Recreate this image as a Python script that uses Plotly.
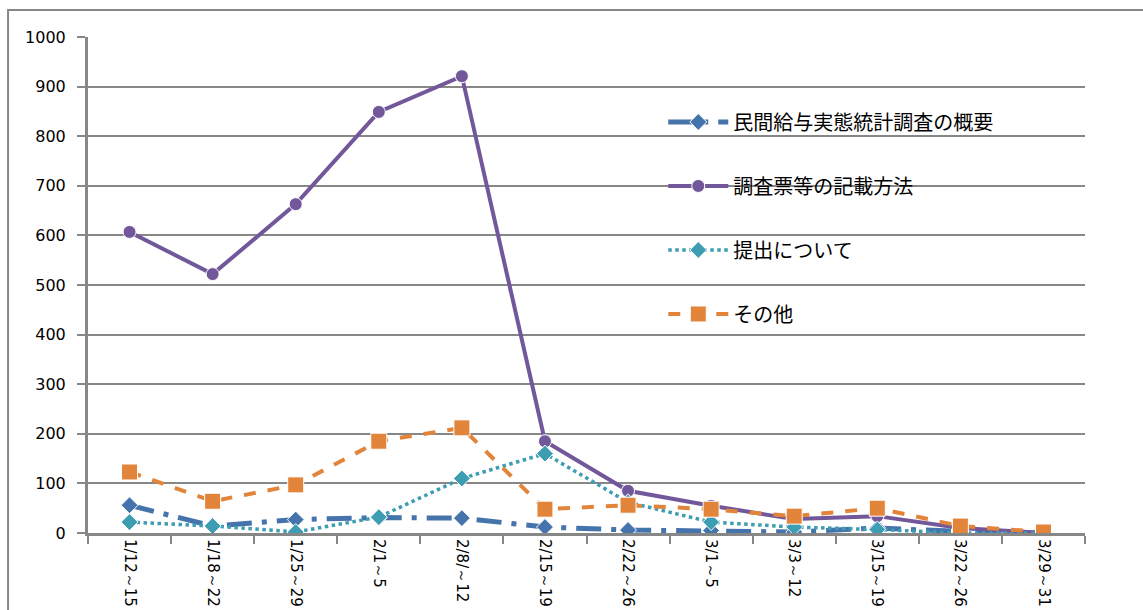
import plotly.graph_objects as go

categories = ["1/12～15", "1/18～22", "1/25～29", "2/1～5", "2/8/～12", "2/15～19",
              "2/22～26", "3/1～5", "3/3～12", "3/15～19", "3/22～26", "3/29～31"]

gaiyou = [56, 14, 27, 31, 30, 12, 6, 5, 2, 10, 3, 0]
kisai = [607, 522, 663, 849, 921, 185, 85, 55, 28, 34, 10, 0]
teishutsu = [22, 14, 2, 32, 110, 160, 62, 22, 12, 7, 0, 0]
sonota = [123, 64, 97, 185, 212, 48, 56, 48, 34, 50, 14, 2]

names = ["民間給与実態統計調査の概要", "調査票等の記載方法", "提出について", "その他"]

GRID = "#878787"
fig = go.Figure()

fig.add_trace(go.Scatter(
    x=categories, y=gaiyou, name=names[0], mode="lines+markers",
    line=dict(color="#4573AB", width=5, dash="longdashdot"),
    marker=dict(symbol="diamond", size=13, color="#4573AB", line=dict(color="white", width=1)),
    legendgroup="a"))
fig.add_trace(go.Scatter(
    x=categories, y=kisai, name=names[1], mode="lines+markers",
    line=dict(color="#72589A", width=4),
    marker=dict(symbol="circle", size=13, color="#72589A", line=dict(color="white", width=1)),
    legendgroup="b"))
fig.add_trace(go.Scatter(
    x=categories, y=teishutsu, name=names[2], mode="lines+markers",
    line=dict(color="#3C9DB3", width=3.5, dash="dot"),
    marker=dict(symbol="diamond", size=13, color="#3C9DB3", line=dict(color="white", width=1)),
    legendgroup="c"))
fig.add_trace(go.Scatter(
    x=categories, y=sonota, name=names[3], mode="lines+markers",
    line=dict(color="#E2843A", width=4, dash="dash"),
    marker=dict(symbol="square", size=16, color="#E2843A", line=dict(color="white", width=1)),
    legendgroup="d"))

fig.update_layout(
    width=1143, height=610,
    margin=dict(l=88, r=58, t=37, b=77),
    paper_bgcolor="white", plot_bgcolor="white",
    font=dict(family="DejaVu Sans", size=15, color="black"),
    showlegend=True,
    legend=dict(
        x=0.577, y=0.868, xanchor="left", yanchor="top",
        bgcolor="rgba(0,0,0,0)", borderwidth=0,
        font=dict(family="Noto Sans CJK JP", size=20, color="black"),
        tracegroupgap=35, itemwidth=60,
    ),
    xaxis=dict(
        type="category", range=[-0.5, 11.5], automargin=False,
        tickson="boundaries", ticks="outside", ticklen=8, tickwidth=2, tickcolor=GRID,
        showgrid=False, showline=True, linecolor=GRID, linewidth=3,
        tickangle=90, tickfont=dict(family="DejaVu Sans", size=15),
    ),
    yaxis=dict(
        range=[0, 1000], dtick=100, tick0=0, automargin=False,
        ticks="outside", ticklen=8, tickwidth=2, tickcolor=GRID,
        showgrid=True, gridcolor=GRID, gridwidth=2,
        showline=True, linecolor=GRID, linewidth=3,
        zeroline=False, ticklabelstandoff=8,
        tickfont=dict(family="DejaVu Sans", size=16),
    ),
    shapes=[
        dict(type="rect", xref="paper", yref="paper",
             x0=-0.0802, x1=1.2, y0=-0.5, y1=1.0544,
             line=dict(color=GRID, width=2), layer="below"),
        dict(type="rect", xref="paper", yref="paper",
             x0=0.5557, x1=0.96, y0=0.379, y1=0.883,
             fillcolor="white", line=dict(width=0), layer="between"),
    ],
)

fig.write_html("out.html")
